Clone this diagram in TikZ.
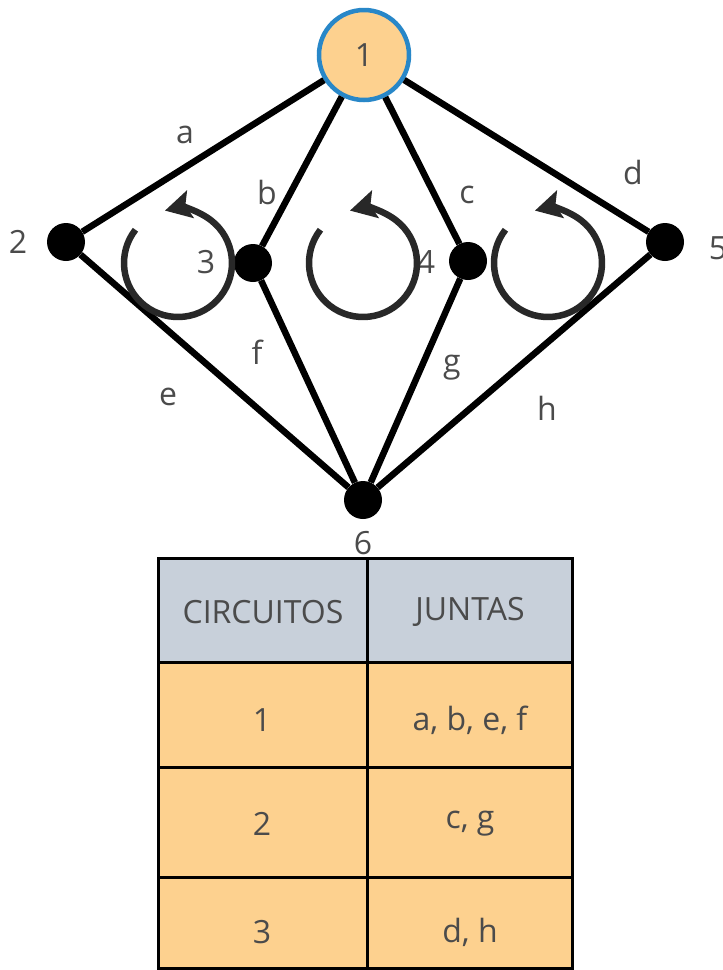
\documentclass[tikz,border=0pt]{standalone}
\usepackage{fontspec}
\setmainfont{Open Sans}
\usetikzlibrary{arrows.meta}
\definecolor{orng}{RGB}{253,209,143}
\definecolor{blu}{RGB}{40,135,200}
\definecolor{hdr}{RGB}{200,208,218}
\definecolor{txt}{RGB}{75,75,75}
\definecolor{loopc}{RGB}{40,40,40}
\tikzset{
  dot/.style={circle,fill=black,inner sep=0pt,minimum size=38pt},
  topnode/.style={circle,fill=orng,draw=blu,line width=4.5pt,inner sep=0pt,minimum size=90pt,text=txt,font=\fontsize{32}{38}\selectfont},
  edge/.style={line width=6.5pt,black},
  lbl/.style={text=txt,font=\fontsize{32}{38}\selectfont,inner sep=0pt},
  looparrow/.style={line width=6.5pt,loopc,-{Stealth[length=26pt,width=28pt,inset=5pt]}},
  cell/.style={draw=black,line width=3pt,text=txt,font=\fontsize{31}{37}\selectfont}
}
\begin{document}
\begin{tikzpicture}[x=1pt,y=1pt]
\useasboundingbox (0,0) rectangle (723,-970);
% nodes
\node[topnode] (n1) at (364,-55) {1};
\node[dot] (n2) at (66,-242) {};
\node[dot] (n3) at (253,-263) {};
\node[dot] (n4) at (468,-261) {};
\node[dot] (n5) at (665,-242) {};
\node[dot] (n6) at (363,-500) {};
% edges
\draw[edge] (n1) -- (n2);
\draw[edge] (n1) -- (n3);
\draw[edge] (n1) -- (n4);
\draw[edge] (n1) -- (n5);
\draw[edge] (n2) -- (n6);
\draw[edge] (n3) -- (n6);
\draw[edge] (n4) -- (n6);
\draw[edge] (n5) -- (n6);
% vertex labels
\node[lbl] (l2) at (18,-242) {2};
\node[lbl] (l3) at (206,-262) {3};
\node[lbl] (l4) at (426,-262) {4};
\node[lbl] (l5) at (718,-248) {5};
\node[lbl] (l6) at (363,-543) {6};
% edge labels
\node[lbl] (ea) at (185,-135) {a};
\node[lbl] (eb) at (267,-192) {b};
\node[lbl] (ec) at (467,-195) {c};
\node[lbl] (ed) at (633,-172) {d};
\node[lbl] (ee) at (168,-397) {e};
\node[lbl] (ef) at (257,-352) {f};
\node[lbl] (eg) at (452,-368) {g};
\node[lbl] (eh) at (547,-408) {h};
% circulation arrows
\coordinate (c1) at (178,-263);
\coordinate (c2) at (363,-263);
\coordinate (c3) at (548,-263);
\foreach \c in {c1,c2,c3}{
  \draw[looparrow] ([shift={(142:54)}]\c) arc[start angle=142,end angle=464,radius=54];
}
% table
\fill[hdr] (158,-558) rectangle (572,-662);
\fill[orng] (158,-662) rectangle (572,-968);
\node[lbl] (h1) at (263,-612) {CIRCUITOS};
\node[lbl] (h2) at (470,-612) {JUNTAS};
\node[lbl] (r1a) at (262,-720) {1};
\node[lbl] (r1b) at (470,-720) {a, b, e, f};
\node[lbl] (r2a) at (262,-824) {2};
\node[lbl] (r2b) at (470,-824) {c, g};
\node[lbl] (r3a) at (262,-932) {3};
\node[lbl] (r3b) at (470,-932) {d, h};
\draw[line width=3pt] (158,-558) rectangle (572,-968);
\draw[line width=3pt] (367,-558) -- (367,-968);
\draw[line width=3pt] (158,-662) -- (572,-662);
\draw[line width=3pt] (158,-767) -- (572,-767);
\draw[line width=3pt] (158,-877) -- (572,-877);
\end{tikzpicture}
\end{document}
